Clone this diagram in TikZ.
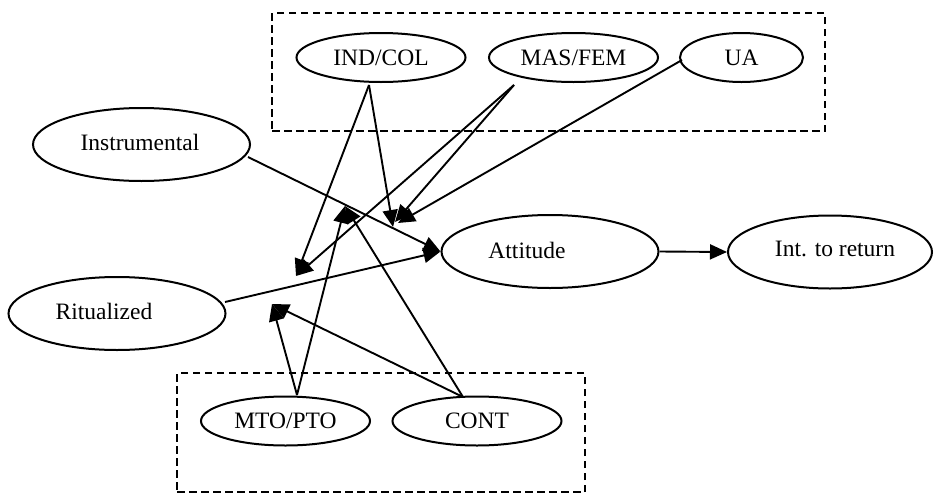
\documentclass[tikz,border=0pt]{standalone}
\usepackage{fontspec}
\setmainfont{Liberation Serif}
\usetikzlibrary{arrows.meta,calc,shapes.geometric}
\begin{document}
\begin{tikzpicture}[x=1pt,y=-1pt,
  lbl/.style={font=\fontsize{23.5}{28}\selectfont,inner sep=0pt},
  big/.style={draw,ellipse,line width=2pt,minimum width=217pt,minimum height=73pt,inner sep=0pt},
  small/.style={draw,ellipse,line width=2pt,minimum width=169pt,minimum height=49pt,inner sep=0pt,font=\fontsize{23.5}{28}\selectfont},
  conn/.style={line width=1.9pt,-{Triangle[length=17pt,width=15pt]}},
  grp/.style={draw,dash pattern=on 7.5pt off 4.5pt,line width=1.6pt,rectangle,inner sep=0pt}]
\useasboundingbox (0,0) rectangle (935,493);
% dashed groups
\node[grp,minimum width=553pt,minimum height=118pt] (topgroup) at (548.5,72) {};
\node[grp,minimum width=408pt,minimum height=119pt] (botgroup) at (381,432.5) {};
% nodes
\node[small] (indcol) at (381,57.5) {IND/COL};
\node[small] (masfem) at (573.5,57.5) {MAS/FEM};
\node[small,minimum width=123pt] (ua) at (741.5,57.5) {UA};
\node[small] (mto) at (285.5,421) {MTO/PTO};
\node[small] (cont) at (477,421) {CONT};
\node[big] (instr) at (141.5,144.5) {};
\node[lbl] (instrtext) at (140,142) {Instrumental};
\node[big] (ritual) at (117,313.5) {};
\node[lbl] (ritualtext) at (104,311) {Ritualized};
\node[big] (att) at (550,251.5) {};
\node[lbl] (atttext) at (527,250) {Attitude};
\node[big,minimum width=204pt] (int) at (830,252) {};
\node[lbl] (inttext) at (835,249) {Int. to return};
% main connectors
\draw[conn] ($(instr.center)+(106.5,12.5)$) -- (att.west);
\draw[conn] ($(ritual.center)+(108,-11.5)$) -- (att.west);
\draw[conn] (att.east) -- (int.west);
% moderator targets
\coordinate (mA) at (296,276);
\coordinate (mB1) at (393,227);
\coordinate (mB2) at (395,222);
\coordinate (mB3) at (398,223);
\coordinate (mC) at (272,304);
\coordinate (mD) at (345,206);
\draw[conn] ($(indcol.center)+(-12,27.5)$) -- (mA);
\draw[conn] ($(indcol.center)+(-12,27.5)$) -- (mB1);
\draw[conn] ($(masfem.center)+(-59.5,27.5)$) -- (mA);
\draw[conn] ($(masfem.center)+(-59.5,27.5)$) -- (mB2);
\draw[conn] ($(ua.center)+(-59.5,2.5)$) -- (mB3);
\draw[conn] ($(mto.center)+(11.5,-26)$) -- (mC);
\draw[conn] ($(mto.center)+(11.5,-26)$) -- (mD);
\draw[conn] ($(cont.center)+(-14,-24)$) -- (mC);
\draw[conn] ($(cont.center)+(-14,-24)$) -- (mD);
\end{tikzpicture}
\end{document}
